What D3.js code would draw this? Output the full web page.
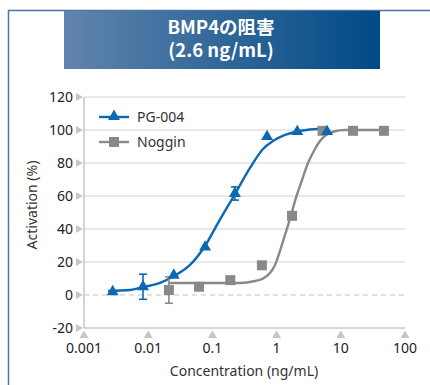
<!DOCTYPE html>
<html>
<head>
<meta charset="utf-8">
<script src="https://cdn.jsdelivr.net/npm/d3@7"></script>
<style>
  html,body{margin:0;padding:0;background:#fff;}
  svg{display:block;}
  text{font-family:"Noto Sans","Noto Sans CJK JP",sans-serif;}
</style>
</head>
<body>
<svg id="chart" width="430" height="385"></svg>
<script>
// ===== DATA =====
const xTicks = [0.001, 0.01, 0.1, 1, 10, 100];
const xTickLabels = ["0.001", "0.01", "0.1", "1", "10", "100"];
const yTicks = [-20, 0, 20, 40, 60, 80, 100, 120];

const pgConc = [0.0028, 0.0083, 0.025, 0.077, 0.224, 0.71, 2.1, 6.1];
const pgAct  = [2, 5, 12, 29, 61.5, 96, 99, 99];
const pgErr  = [0, 7.6, 0, 0, 4, 0, 0, 0];

const nogConc = [0.021, 0.062, 0.19, 0.59, 1.74, 5.2, 15.5, 47];
const nogAct  = [3, 5, 9, 18, 48, 99.5, 99.5, 99.5];
const nogErr  = [8, 0, 0, 0, 0, 0, 0, 0];

// fitted curves
const pgFitConc = [0.00237, 0.00521, 0.0083, 0.01527, 0.02522, 0.04479, 0.0767, 0.1222, 0.2249, 0.3853, 0.6142, 0.879, 1.352, 2.08, 3.31, 6.32];
const pgFitAct  = [2.4, 3, 4.8, 7.3, 11.5, 18.2, 29.7, 43.6, 61.2, 77, 88.5, 93.3, 97, 99.1, 100.3, 100.9];
const nogFitConc = [0.0211, 0.0641, 0.188, 0.269, 0.461, 0.593, 0.789, 0.944, 1.13, 1.352, 1.618, 1.936, 2.489, 3.085, 3.963, 4.74, 5.88, 7.83, 11.63, 47.1];
const nogFitAct  = [7.3, 7.3, 7.3, 7.3, 8.5, 9.7, 13.3, 18.2, 26.7, 36.4, 46.1, 57, 69.7, 80, 88.5, 93.3, 97, 99.1, 100, 100];

const seriesNames = ["PG-004", "Noggin"];
const titleLines = ["BMP4の阻害", "(2.6 ng/mL)"];
const blue = "#0b69b4", gray = "#898989";

// ===== SETUP =====
const svg = d3.select("#chart");
const x = d3.scaleLog().domain([0.001, 100]).range([84, 405]);
const y = d3.scaleLinear().domain([-20, 120]).range([328, 97]);

// frame + title
svg.append("line").attr("x1", 8.5).attr("x2", 8.5).attr("y1", 10).attr("y2", 385).attr("stroke", "#4d73a8").attr("stroke-width", 1.5);
svg.append("line").attr("x1", 8).attr("x2", 430).attr("y1", 10.5).attr("y2", 10.5).attr("stroke", "#4d73a8").attr("stroke-width", 1.5);

const grad = svg.append("defs").append("linearGradient").attr("id", "tg");
grad.append("stop").attr("offset", "0%").attr("stop-color", "#6184ad");
grad.append("stop").attr("offset", "100%").attr("stop-color", "#004a86");
svg.append("rect").attr("x", 64).attr("y", 11).attr("width", 316).attr("height", 58).attr("fill", "url(#tg)");
const title = svg.append("text").attr("text-anchor", "middle").attr("fill", "#fff")
  .attr("font-size", 18.5).attr("font-weight", "bold").style("font-family", '"Noto Sans CJK JP","Noto Sans",sans-serif');
title.selectAll("tspan").data(titleLines).enter().append("tspan")
  .attr("x", 221).attr("y", (d, i) => 34 + i * 23).text(d => d);

// grid
svg.selectAll(".grid").data(yTicks.filter(d => d > 0)).enter().append("line")
  .attr("x1", x(0.001)).attr("x2", x(100)).attr("y1", d => y(d)).attr("y2", d => y(d))
  .attr("stroke", "#d2d2d2").attr("stroke-width", 1.2);
svg.append("line").attr("x1", x(0.001)).attr("x2", x(100)).attr("y1", y(0)).attr("y2", y(0))
  .attr("stroke", "#c4c4c4").attr("stroke-width", 1.2).attr("stroke-dasharray", "5,4");
// axes lines
svg.append("line").attr("x1", x(0.001)).attr("x2", x(100)).attr("y1", y(-20)).attr("y2", y(-20)).attr("stroke", "#cacaca").attr("stroke-width", 1.6);
svg.append("line").attr("x1", x(0.001)).attr("x2", x(0.001)).attr("y1", y(120)).attr("y2", y(-20)).attr("stroke", "#cacaca").attr("stroke-width", 1.6);

// y ticks (right-pointing triangles) + labels
const yt = svg.selectAll(".yt").data(yTicks).enter().append("g").attr("transform", d => `translate(0,${y(d)})`);
yt.append("path").attr("d", "M76,-4L83,0L76,4Z").attr("fill", "#c6c6c6");
yt.append("text").attr("x", 73).attr("dy", "0.36em").attr("text-anchor", "end").attr("font-size", 14).attr("fill", "#222").text(d => d);

// x ticks (up-pointing triangles) + labels
const xt = svg.selectAll(".xt").data(xTicks).enter().append("g").attr("transform", d => `translate(${x(d)},0)`);
xt.append("path").attr("d", "M-4.5,338L0,330.5L4.5,338Z").attr("fill", "#c6c6c6");
xt.append("text").attr("y", 353).attr("text-anchor", "middle").attr("font-size", 14).attr("fill", "#222").text((d, i) => xTickLabels[i]);

// axis titles
svg.append("text").attr("x", 244).attr("y", 376).attr("text-anchor", "middle").attr("font-size", 14).attr("fill", "#333").text("Concentration (ng/mL)");
svg.append("text").attr("transform", "translate(37,205) rotate(-90)").attr("text-anchor", "middle").attr("font-size", 14).attr("fill", "#333").text("Activation (%)");

// curves
const line = d3.line().x(d => x(d[0])).y(d => y(d[1])).curve(d3.curveMonotoneX);
svg.append("path").datum(nogFitConc.map((c, i) => [c, nogFitAct[i]])).attr("d", line)
  .attr("fill", "none").attr("stroke", gray).attr("stroke-width", 2.4);
svg.append("path").datum(pgFitConc.map((c, i) => [c, pgFitAct[i]])).attr("d", line)
  .attr("fill", "none").attr("stroke", blue).attr("stroke-width", 2.4);

// error bars
function errBars(conc, act, err, color) {
  const d = conc.map((c, i) => ({c, v: act[i], e: err[i]})).filter(d => d.e > 0);
  const g = svg.append("g").attr("stroke", color).attr("stroke-width", 1.6);
  d.forEach(p => {
    const cx = x(p.c);
    g.append("line").attr("x1", cx).attr("x2", cx).attr("y1", y(p.v + p.e)).attr("y2", y(p.v - p.e));
    g.append("line").attr("x1", cx - 4).attr("x2", cx + 4).attr("y1", y(p.v + p.e)).attr("y2", y(p.v + p.e));
    g.append("line").attr("x1", cx - 4).attr("x2", cx + 4).attr("y1", y(p.v - p.e)).attr("y2", y(p.v - p.e));
  });
}
errBars(nogConc, nogAct, nogErr, gray);
errBars(pgConc, pgAct, pgErr, blue);

// markers
const tri = d3.symbol().type(d3.symbolTriangle).size(62);
svg.selectAll(".nog").data(nogConc).enter().append("rect")
  .attr("x", d => x(d) - 5).attr("y", (d, i) => y(nogAct[i]) - 5).attr("width", 10).attr("height", 10).attr("fill", gray);
svg.selectAll(".pg").data(pgConc).enter().append("path")
  .attr("transform", (d, i) => `translate(${x(d)},${y(pgAct[i])})`).attr("d", tri).attr("fill", blue);

// legend
const lg = svg.append("g");
lg.append("line").attr("x1", 99).attr("x2", 129).attr("y1", 117).attr("y2", 117).attr("stroke", blue).attr("stroke-width", 2.4);
lg.append("path").attr("transform", "translate(114,116.5)").attr("d", tri).attr("fill", blue);
lg.append("text").attr("x", 137).attr("y", 117).attr("dy", "0.36em").attr("font-size", 14).attr("fill", "#333").text(seriesNames[0]);
lg.append("line").attr("x1", 99).attr("x2", 129).attr("y1", 142).attr("y2", 142).attr("stroke", gray).attr("stroke-width", 2.4);
lg.append("rect").attr("x", 109).attr("y", 137).attr("width", 10).attr("height", 10).attr("fill", gray);
lg.append("text").attr("x", 137).attr("y", 142).attr("dy", "0.36em").attr("font-size", 14).attr("fill", "#333").text(seriesNames[1]);
</script>
</body>
</html>
